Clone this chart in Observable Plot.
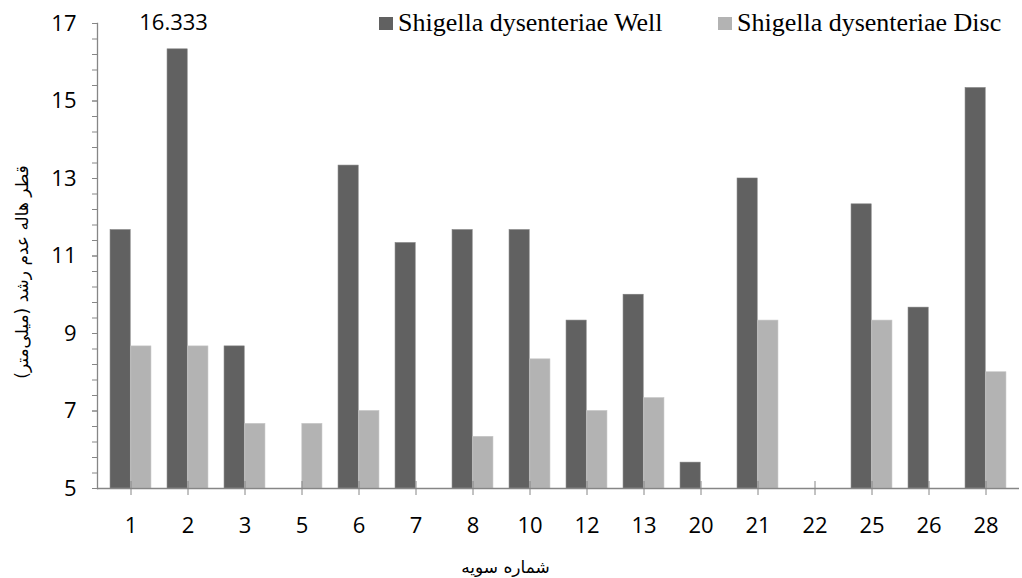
<!DOCTYPE html>
<html>
<head>
<meta charset="utf-8">
<script src="https://cdn.jsdelivr.net/npm/d3@7"></script>
<script src="https://cdn.jsdelivr.net/npm/@observablehq/plot@0.6"></script>
<style>
  html, body { margin: 0; padding: 0; background: #fff; }
  #wrap { position: relative; width: 1022px; height: 578px; }
  .legend { position: absolute; top: 8px; font-family: "Liberation Serif", "Times New Roman", serif; font-size: 26px; color: #000; white-space: nowrap; line-height: 30px; }
  .legend .sw { display: inline-block; width: 14px; height: 13px; margin-right: 5px; vertical-align: 1px; }
</style>
</head>
<body>
<div id="wrap"></div>
<script>
const categories = ["1", "2", "3", "5", "6", "7", "8", "10", "12", "13", "20", "21", "22", "25", "26", "28"];
const wellValues = [11.667, 16.333, 8.667, null, 13.333, 11.333, 11.667, 11.667, 9.333, 10, 5.667, 13, null, 12.333, 9.667, 15.333];
const discValues = [8.667, 8.667, 6.667, 6.667, 7, null, 6.333, 8.333, 7, 7.333, null, 9.333, null, 9.333, null, 8];
const seriesNames = ["Shigella dysenteriae Well", "Shigella dysenteriae Disc"];
const seriesColors = ["#616161", "#b3b3b3"];
const yTicks = [5, 7, 9, 11, 13, 15, 17];
const yMinorTicks = d3.range(5, 17.001, 0.4);
const yLabel = "قطر هاله عدم رشد (میلی‌متر)";
const xLabel = "شماره سویه";
const labelText = "16.333";

const well = categories.map((c, i) => ({cat: c, value: wellValues[i]})).filter(d => d.value != null);
const disc = categories.map((c, i) => ({cat: c, value: discValues[i]})).filter(d => d.value != null);

const W = 1022, H = 578;
const mL = 97, mR = 3, mT = 23, mB = 90;
const bw = (W - mL - mR) / categories.length;
const axisGray = "#868686";
const numFont = "'Open Sans', sans-serif";
const faFont = "'DejaVu Sans', sans-serif";

const chart = Plot.plot({
  width: W,
  height: H,
  marginLeft: mL,
  marginRight: mR,
  marginTop: mT,
  marginBottom: mB,
  style: `font-family: ${numFont}; font-size: 22px; background: #fff; color: #000;`,
  x: {type: "band", domain: categories, padding: 0, axis: null},
  y: {domain: [5, 17], axis: null},
  marks: [
    Plot.barY(well, {x: "cat", y1: 5, y2: "value", fill: seriesColors[0], stroke: "#7a7a7a", strokeWidth: 0.6,
      insetLeft: bw * 0.14, insetRight: bw * 0.5}),
    Plot.barY(disc, {x: "cat", y1: 5, y2: "value", fill: seriesColors[1], stroke: "#c4c4c4", strokeWidth: 0.6,
      insetLeft: bw * 0.5, insetRight: bw * 0.14}),
    Plot.frame({anchor: "left", stroke: axisGray, strokeWidth: 1.3}),
    Plot.ruleY([5], {stroke: axisGray, strokeWidth: 1.3}),
    Plot.axisY({ticks: yMinorTicks, tickSize: 5, tickFormat: () => "", stroke: axisGray, label: null}),
    Plot.axisY({ticks: yTicks, tickSize: 5, tickPadding: 16, stroke: axisGray, fill: "#000", fontSize: "22px", label: null}),
    Plot.axisX({tickSize: 7, tickPadding: 22, stroke: axisGray, fill: "#000", fontSize: "22px", label: null}),
    Plot.axisX({tickSize: -7, tickFormat: () => "", stroke: axisGray, label: null}),
    Plot.text(well.filter(d => d.value === 16.333), {x: "cat", y: "value", text: () => labelText, dx: -bw * 0.25, dy: -26,
      fontSize: "22px", fill: "#000"}),
    Plot.text([xLabel], {frameAnchor: "bottom", text: d => d, lineAnchor: "middle", dy: 79, dx: -53, fontSize: "17px", fill: "#000",
      fontFamily: faFont}),
    Plot.text([yLabel], {frameAnchor: "left", text: d => d, textAnchor: "middle", rotate: -90, dx: -75, dy: 16, fontSize: "17px", fill: "#000",
      fontFamily: faFont})
  ]
});

const wrap = document.getElementById("wrap");
wrap.appendChild(chart);

const legendPos = [379, 718];
seriesNames.forEach((name, i) => {
  const item = document.createElement("div");
  item.className = "legend";
  item.style.left = legendPos[i] + "px";
  const sw = document.createElement("span");
  sw.className = "sw";
  sw.style.background = seriesColors[i];
  item.appendChild(sw);
  item.appendChild(document.createTextNode(name));
  wrap.appendChild(item);
});
</script>
</body>
</html>
